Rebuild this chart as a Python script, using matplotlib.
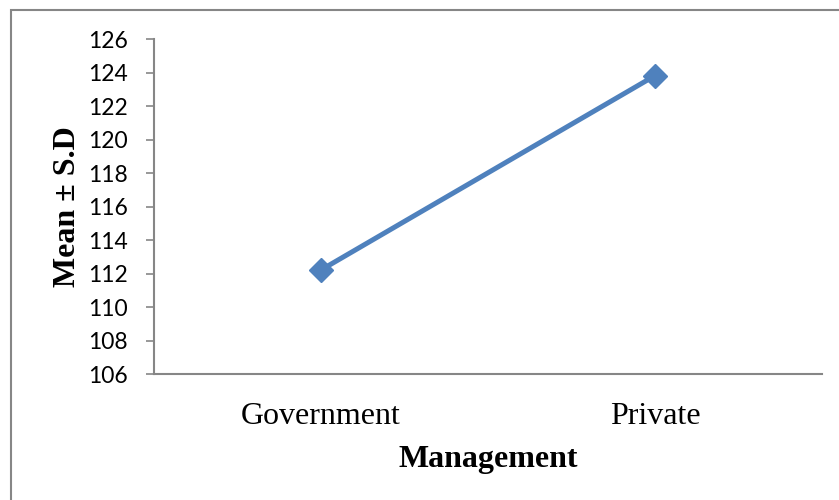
import matplotlib.pyplot as plt
from matplotlib.patches import Rectangle

categories = ["Government", "Private"]
means = [112.23, 123.83]
y_ticks = [106, 108, 110, 112, 114, 116, 118, 120, 122, 124, 126]

LINE_COLOR = "#4F81BD"
AXIS_COLOR = "#868686"

fig = plt.figure(figsize=(8.39, 5.0), dpi=100)
ax = fig.add_axes([154 / 839, 1 - 374.3 / 500, 668 / 839, 335 / 500])

x = list(range(len(categories)))
ax.plot(x, means, color=LINE_COLOR, linewidth=3.6, marker="D", markersize=12.5,
        markerfacecolor=LINE_COLOR, markeredgecolor=LINE_COLOR, clip_on=False)

ax.set_xlim(-0.5, len(categories) - 0.5)
ax.set_ylim(y_ticks[0], y_ticks[-1])
ax.set_yticks(y_ticks)
ax.set_xticks(x)
ax.set_xticklabels(categories, fontfamily="Liberation Serif", fontsize=23)
ax.tick_params(axis="x", length=0, pad=20)
ax.tick_params(axis="y", length=6, width=1.2, color=AXIS_COLOR, pad=13, labelsize=16.5)
for label in ax.get_yticklabels():
    label.set_fontfamily("Lato")

for side in ["top", "right"]:
    ax.spines[side].set_visible(False)
for side in ["left", "bottom"]:
    ax.spines[side].set_color(AXIS_COLOR)
    ax.spines[side].set_linewidth(1.5)

ax.set_xlabel("Management", fontfamily="Liberation Serif", fontweight="bold", fontsize=23, labelpad=10)
ax.set_ylabel("Mean \u00b1 S.D", fontfamily="Liberation Serif", fontweight="bold", fontsize=23, labelpad=4)

# outer chart border (cropped on right/bottom)
fig.patches.append(Rectangle((11 / 839, -0.1), 1.2, 1.1 - 10 / 500, transform=fig.transFigure,
                             fill=False, edgecolor=AXIS_COLOR, linewidth=1.5))

fig.savefig("out.png", dpi=100)
